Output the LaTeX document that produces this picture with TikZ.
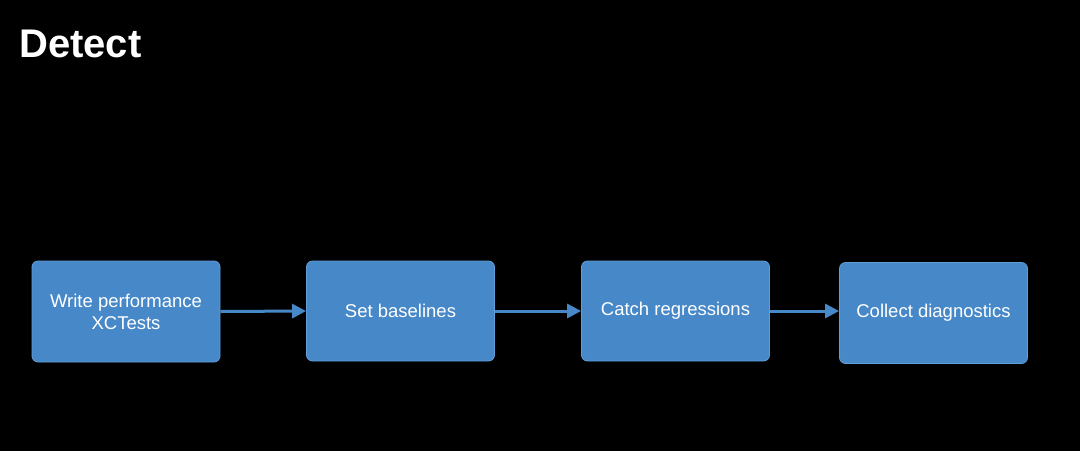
\documentclass[tikz,border=0pt]{standalone}
\usepackage{fontspec}
\setmainfont{Liberation Sans}
\usetikzlibrary{arrows.meta}
\definecolor{stepblue}{RGB}{71,136,200}
\definecolor{stepedge}{RGB}{98,158,216}
\begin{document}
\begin{tikzpicture}[x=1pt,y=-1pt,
  stepbox/.style={draw=stepedge,fill=stepblue,line width=0.8pt,rounded corners=6pt,
    minimum width=188pt,minimum height=101pt,inner sep=0pt,text=white,align=center,
    font=\fontsize{18.5}{22}\selectfont},
  flow/.style={draw=stepblue,line width=3pt,-{Triangle[length=14pt,width=14pt]}}]
\fill[black] (0,0) rectangle (1080,451);
\useasboundingbox (0,0) rectangle (1080,451);
\node[anchor=base west,text=white,inner sep=0pt,font=\fontsize{40}{48}\bfseries] (title) at (19,57) {Detect};
\node[stepbox] (write) at (126,311.5) {Write performance\\XCTests};
\node[stepbox,minimum height=100pt] (base) at (400.5,311) {Set baselines};
\node[stepbox,minimum height=100pt] (catch) at (675.5,311) {Catch regressions};
\node[stepbox] (collect) at (933.5,313) {Collect diagnostics};
\draw[flow] (write.east) -- (base.west);
\draw[flow] (base.east) -- (catch.west);
\draw[flow] (catch.east) -- (catch.east -| collect.west);
\end{tikzpicture}
\end{document}
